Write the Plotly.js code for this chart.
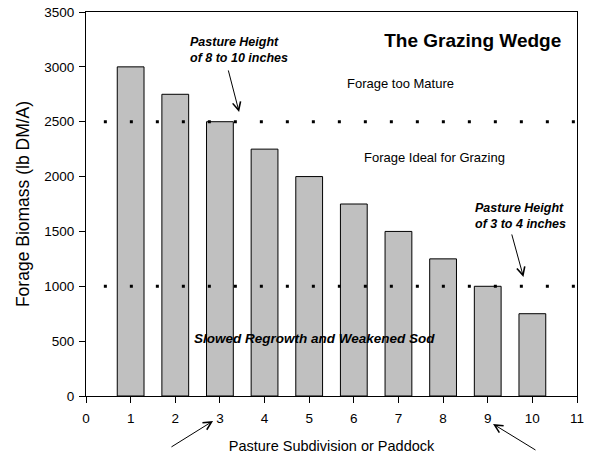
<!DOCTYPE html>
<html><head><meta charset="utf-8">
<script src="https://cdn.plot.ly/plotly-3.0.1.min.js"></script>
<style>body{margin:0;padding:0;background:#fff}#chart{width:594px;height:459px}</style>
</head><body><div id="chart"></div>
<script>
const paddocks = [1, 2, 3, 4, 5, 6, 7, 8, 9, 10];
const biomass = [3000, 2750, 2500, 2250, 2000, 1750, 1500, 1250, 1000, 750];
const upperThreshold = 2500;
const lowerThreshold = 1000;
const xTicks = [0,1,2,3,4,5,6,7,8,9,10,11];
const yTicks = [0,500,1000,1500,2000,2500,3000,3500];

const F = 'Liberation Sans, Arial, sans-serif';

const trace = {
  type: 'bar', x: paddocks, y: biomass, width: 0.6,
  marker: {color: '#c0c0c0', line: {color: '#000', width: 1}},
  hoverinfo: 'skip'
};

function dotted(y) {
  return {type: 'line', xref: 'x', yref: 'y', x0: 0.4, x1: 11, y0: y, y1: y,
    line: {color: '#000', width: 3, dash: '3px,23px'}, layer: 'above'};
}

const layout = {
  width: 594, height: 459,
  margin: {l: 86, r: 17, t: 12, b: 63},
  paper_bgcolor: '#fff', plot_bgcolor: '#fff',
  showlegend: false,
  font: {family: F, color: '#000', size: 13},
  title: {text: '<b>The Grazing Wedge</b>', font: {family: F, size: 19, color: '#000'},
    xref: 'paper', x: 0.968, xanchor: 'right', yref: 'container', y: 0.913, yanchor: 'middle'},
  xaxis: {range: [0, 11], tickvals: xTicks, ticktext: xTicks.map(String),
    ticks: 'outside', ticklen: 6, tickcolor: '#000', showgrid: false, zeroline: false,
    showline: true, linecolor: '#000', linewidth: 1, mirror: true,
    ticklabelstandoff: 4,
    tickfont: {family: F, size: 13.5},
    title: {text: 'Pasture Subdivision or Paddock', font: {family: F, size: 14.5}, standoff: 15}},
  yaxis: {range: [0, 3500], tickvals: yTicks, ticktext: yTicks.map(String),
    ticks: 'outside', ticklen: 6, tickcolor: '#000', showgrid: false, zeroline: false,
    showline: true, linecolor: '#000', linewidth: 1, mirror: true,
    ticklabelstandoff: 2,
    tickfont: {family: F, size: 13.5},
    title: {text: 'Forage Biomass (lb DM/A)', font: {family: F, size: 17.5}, standoff: 10}},
  shapes: [dotted(upperThreshold), dotted(lowerThreshold)],
  annotations: [
    {xref: 'x', yref: 'y', x: 3.43, y: 2589, ax: 3.18, ay: 2981, axref: 'x', ayref: 'y',
      showarrow: true, arrowhead: 5, arrowsize: 1.6, arrowwidth: 1, arrowcolor: '#000', text: ''},
    {xref: 'x', yref: 'y', x: 3.42, y: 3150, showarrow: false,
      text: '<b><i>Pasture Height<br>of 8 to 10 inches</i></b>', font: {family: F, size: 12.5}, align: 'left'},
    {xref: 'x', yref: 'y', x: 9.8, y: 1085, ax: 9.53, ay: 1486, axref: 'x', ayref: 'y',
      showarrow: true, arrowhead: 5, arrowsize: 1.6, arrowwidth: 1, arrowcolor: '#000', text: ''},
    {xref: 'x', yref: 'y', x: 9.73, y: 1640, showarrow: false,
      text: '<b><i>Pasture Height<br>of 3 to 4 inches</i></b>', font: {family: F, size: 12.5}, align: 'left'},
    {xref: 'x', yref: 'y', x: 7.04, y: 2844, showarrow: false,
      text: 'Forage too Mature', font: {family: F, size: 13}},
    {xref: 'x', yref: 'y', x: 7.8, y: 2170, showarrow: false,
      text: 'Forage Ideal for Grazing', font: {family: F, size: 13}},
    {xref: 'x', yref: 'y', x: 5.13, y: 520, showarrow: false,
      text: '<b><i>Slowed Regrowth and Weakened Sod</i></b>', font: {family: F, size: 13.5}},
    {xref: 'paper', yref: 'paper', x: 0.2587, y: -0.0651, ax: 0.171, ay: -0.135, axref: 'paper', ayref: 'paper',
      showarrow: true, arrowhead: 5, arrowsize: 1.6, arrowwidth: 1, arrowcolor: '#000', text: ''},
    {xref: 'paper', yref: 'paper', x: 0.829, y: -0.0729, ax: 0.9185, ay: -0.143, axref: 'paper', ayref: 'paper',
      showarrow: true, arrowhead: 5, arrowsize: 1.6, arrowwidth: 1, arrowcolor: '#000', text: ''}
  ]
};

Plotly.newPlot('chart', [trace], layout, {staticPlot: true, displayModeBar: false});
</script></body></html>
